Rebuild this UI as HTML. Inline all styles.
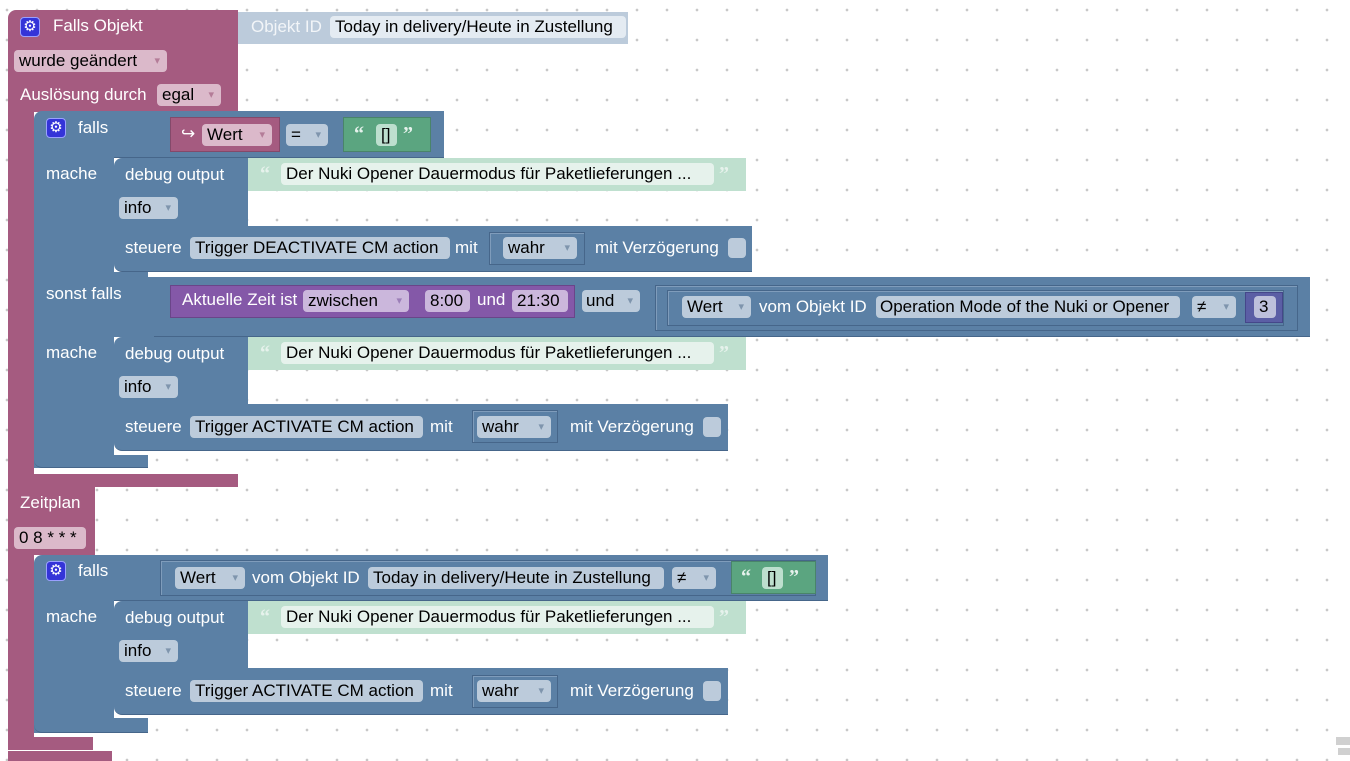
<!DOCTYPE html>
<html><head><meta charset="utf-8"><style>
*{margin:0;padding:0;box-sizing:border-box}
body{width:1350px;height:755px;overflow:hidden;position:relative;background-color:#fff;
background-image:radial-gradient(circle,#c8c8c8 1.1px,transparent 1.6px);background-size:30px 30px;background-position:-8px -5px;
font-family:"Liberation Sans",Arial,sans-serif}
.a{position:absolute}
.pk{background:#a55b80}
.bl{background:#5b80a5;border-bottom:1px solid #46668a}
.t{position:absolute;color:#fff;font-size:17px;line-height:22px;white-space:nowrap}
.f{position:absolute;height:22px;border-radius:4px;color:#000;font-size:17px;line-height:22px;white-space:nowrap;padding-left:5px}
.fb{background:#bccbdb}
.fp{background:#dbb9ca}
.fpu{background:#cbb7dc}
.dd::after{content:"▾";font-size:11px;color:#7f95ad;position:absolute;right:7px;top:0}
.fp.dd::after{color:#b47c98}
.fpu.dd::after{color:#9c7fb8}
.gear{position:absolute;width:20px;height:20px;border-radius:4px;background:#3434d8;border:1px solid #9aa0ff;color:#fff;font-size:15px;line-height:18px;text-align:center}
.outl{position:absolute;border:1px solid #46668a;box-shadow:inset 1px 1px 0 #7f9cbb}
.q{position:absolute;color:#e6f2ec;font-size:20px;font-weight:bold;line-height:22px;font-family:"Liberation Serif",serif}
.cb{position:absolute;width:18px;height:20px;border-radius:4px;background:#bccbdb}
</style></head><body>

<!-- ===== Block 1: Falls Objekt ===== -->
<div class="a pk" style="left:8px;top:10px;width:230px;height:102px;border-radius:8px 0 0 0"></div>
<div class="a pk" style="left:8px;top:100px;width:26px;height:387px"></div>
<div class="a pk" style="left:8px;top:474px;width:230px;height:13px"></div>
<div class="gear" style="left:20px;top:17px">⚙</div>
<div class="t" style="left:53px;top:15px">Falls Objekt</div>
<div class="a" style="left:238px;top:12px;width:390px;height:32px;background:#bccbdb"></div>
<div class="t" style="left:251px;top:16px;color:#f2f5f8">Objekt ID</div>
<div class="f" style="left:330px;top:16px;width:296px;background:#e4ebf2">Today in delivery/Heute in Zustellung</div>
<div class="f fp dd" style="left:14px;top:50px;width:153px">wurde geändert</div>
<div class="t" style="left:20px;top:84px">Auslösung durch</div>
<div class="f fp dd" style="left:157px;top:84px;width:64px">egal</div>

<!-- falls block 1 -->
<div class="a bl" style="left:34px;top:111px;width:410px;height:47px;border-radius:8px 0 0 0"></div>
<div class="a bl" style="left:34px;top:150px;width:80px;height:318px;border-bottom:none"></div>
<div class="a bl" style="left:34px;top:455px;width:114px;height:13px;border-radius:0 0 0 8px"></div>
<div class="gear" style="left:46px;top:118px">⚙</div>
<div class="t" style="left:78px;top:117px">falls</div>
<div class="a pk" style="left:170px;top:117px;width:110px;height:35px;border:1px solid #84496a"></div>
<div class="t" style="left:181px;top:123px">↪</div>
<div class="f fp dd" style="left:202px;top:124px;width:70px">Wert</div>
<div class="f fb dd" style="left:286px;top:124px;width:42px">=</div>
<div class="a" style="left:343px;top:117px;width:88px;height:35px;background:#5ba580;border:1px solid #49846a"></div>
<div class="q" style="left:354px;top:123px">“</div>
<div class="f" style="left:376px;top:124px;width:21px;background:#bddfce">[]</div>
<div class="q" style="left:403px;top:123px">”</div>

<div class="t" style="left:46px;top:163px">mache</div>
<div class="a bl" style="left:114px;top:158px;width:134px;height:68px;border-radius:8px 0 0 0;border-bottom:none"></div>
<div class="t" style="left:125px;top:164px">debug output</div>
<div class="a" style="left:248px;top:158px;width:498px;height:33px;background:#bfe0cf"></div>
<div class="q" style="left:260px;top:163px">“</div>
<div class="f" style="left:281px;top:163px;width:433px;background:#e6f2ec">Der Nuki Opener Dauermodus für Paketlieferungen ...</div>
<div class="q" style="left:719px;top:163px">”</div>
<div class="f fb dd" style="left:119px;top:197px;width:59px">info</div>
<div class="a bl" style="left:114px;top:226px;width:638px;height:46px;border-radius:0 0 0 8px"></div>
<div class="t" style="left:125px;top:237px">steuere</div>
<div class="f fb" style="left:190px;top:237px;width:260px">Trigger DEACTIVATE CM action</div>
<div class="t" style="left:455px;top:237px">mit</div>
<div class="outl" style="left:489px;top:232px;width:96px;height:33px"></div>
<div class="f fb dd" style="left:503px;top:237px;width:74px">wahr</div>
<div class="t" style="left:595px;top:237px">mit Verzögerung</div>
<div class="cb" style="left:728px;top:238px"></div>

<!-- sonst falls -->
<div class="a bl" style="left:114px;top:272px;width:34px;height:10px;border:none"></div>
<div class="a bl" style="left:148px;top:277px;width:1162px;height:60px"></div>
<div class="a bl" style="left:34px;top:277px;width:120px;height:60px;border:none"></div>
<div class="t" style="left:46px;top:283px">sonst falls</div>
<div class="a" style="left:170px;top:285px;width:405px;height:33px;background:#8458a8;border:1px solid #6a4589"></div>
<div class="t" style="left:182px;top:289px">Aktuelle Zeit ist</div>
<div class="f fpu dd" style="left:303px;top:290px;width:106px">zwischen</div>
<div class="f fpu" style="left:425px;top:290px;width:45px">8:00</div>
<div class="t" style="left:477px;top:289px">und</div>
<div class="f fpu" style="left:512px;top:290px;width:56px">21:30</div>
<div class="f fb dd" style="left:582px;top:290px;width:58px;padding-left:4px">und</div>
<div class="outl" style="left:655px;top:285px;width:643px;height:46px"></div>
<div class="outl" style="left:667px;top:290px;width:617px;height:36px"></div>
<div class="f fb dd" style="left:682px;top:296px;width:69px">Wert</div>
<div class="t" style="left:759px;top:296px">vom Objekt ID</div>
<div class="f fb" style="left:876px;top:296px;width:304px;padding-left:4px">Operation Mode of the Nuki or Opener</div>
<div class="f fb dd" style="left:1192px;top:296px;width:44px">≠</div>
<div class="a" style="left:1245px;top:292px;width:38px;height:31px;background:#5b5ea5;border:1px solid #45478a"></div>
<div class="f" style="left:1254px;top:296px;width:22px;background:#bdc0db">3</div>

<div class="t" style="left:46px;top:342px">mache</div>
<div class="a bl" style="left:114px;top:337px;width:134px;height:67px;border-radius:8px 0 0 0;border-bottom:none"></div>
<div class="t" style="left:125px;top:343px">debug output</div>
<div class="a" style="left:248px;top:337px;width:498px;height:33px;background:#bfe0cf"></div>
<div class="q" style="left:260px;top:342px">“</div>
<div class="f" style="left:281px;top:342px;width:433px;background:#e6f2ec">Der Nuki Opener Dauermodus für Paketlieferungen ...</div>
<div class="q" style="left:719px;top:342px">”</div>
<div class="f fb dd" style="left:119px;top:376px;width:59px">info</div>
<div class="a bl" style="left:114px;top:404px;width:614px;height:47px;border-radius:0 0 0 8px"></div>
<div class="t" style="left:125px;top:416px">steuere</div>
<div class="f fb" style="left:190px;top:416px;width:233px">Trigger ACTIVATE CM action</div>
<div class="t" style="left:430px;top:416px">mit</div>
<div class="outl" style="left:472px;top:410px;width:86px;height:33px"></div>
<div class="f fb dd" style="left:477px;top:416px;width:74px">wahr</div>
<div class="t" style="left:570px;top:416px">mit Verzögerung</div>
<div class="cb" style="left:703px;top:417px"></div>

<!-- ===== Block 2: Zeitplan ===== -->
<div class="a pk" style="left:8px;top:487px;width:87px;height:68px"></div>
<div class="a pk" style="left:8px;top:550px;width:26px;height:200px"></div>
<div class="a pk" style="left:8px;top:737px;width:85px;height:13px"></div>
<div class="a pk" style="left:8px;top:751px;width:104px;height:10px"></div>
<div class="t" style="left:20px;top:492px">Zeitplan</div>
<div class="f fp" style="left:14px;top:527px;width:72px">0 8 * * *</div>

<div class="a bl" style="left:34px;top:555px;width:794px;height:46px;border-radius:8px 0 0 0"></div>
<div class="a bl" style="left:34px;top:595px;width:80px;height:138px;border-bottom:none"></div>
<div class="a bl" style="left:34px;top:718px;width:114px;height:15px;border-radius:0 0 0 8px"></div>
<div class="gear" style="left:46px;top:561px">⚙</div>
<div class="t" style="left:78px;top:560px">falls</div>
<div class="outl" style="left:160px;top:560px;width:656px;height:36px;border-color:#46668a"></div>
<div class="f fb dd" style="left:175px;top:567px;width:70px">Wert</div>
<div class="t" style="left:252px;top:567px">vom Objekt ID</div>
<div class="f fb" style="left:368px;top:567px;width:296px">Today in delivery/Heute in Zustellung</div>
<div class="f fb dd" style="left:672px;top:567px;width:44px">≠</div>
<div class="a" style="left:731px;top:561px;width:85px;height:33px;background:#5ba580;border:1px solid #49846a"></div>
<div class="q" style="left:741px;top:566px">“</div>
<div class="f" style="left:762px;top:567px;width:21px;background:#bddfce">[]</div>
<div class="q" style="left:789px;top:566px">”</div>

<div class="t" style="left:46px;top:606px">mache</div>
<div class="a bl" style="left:114px;top:601px;width:134px;height:67px;border-radius:8px 0 0 0;border-bottom:none"></div>
<div class="t" style="left:125px;top:607px">debug output</div>
<div class="a" style="left:248px;top:601px;width:498px;height:33px;background:#bfe0cf"></div>
<div class="q" style="left:260px;top:606px">“</div>
<div class="f" style="left:281px;top:606px;width:433px;background:#e6f2ec">Der Nuki Opener Dauermodus für Paketlieferungen ...</div>
<div class="q" style="left:719px;top:606px">”</div>
<div class="f fb dd" style="left:119px;top:640px;width:59px">info</div>
<div class="a bl" style="left:114px;top:668px;width:614px;height:47px;border-radius:0 0 0 8px"></div>
<div class="t" style="left:125px;top:680px">steuere</div>
<div class="f fb" style="left:190px;top:680px;width:233px">Trigger ACTIVATE CM action</div>
<div class="t" style="left:430px;top:680px">mit</div>
<div class="outl" style="left:472px;top:675px;width:86px;height:33px"></div>
<div class="f fb dd" style="left:477px;top:680px;width:74px">wahr</div>
<div class="t" style="left:570px;top:680px">mit Verzögerung</div>
<div class="cb" style="left:703px;top:681px"></div>

<div class="a" style="left:1336px;top:737px;width:14px;height:8px;background:#d0d0d0"></div>
<div class="a" style="left:1338px;top:748px;width:12px;height:7px;background:#d0d0d0"></div>
</body></html>
